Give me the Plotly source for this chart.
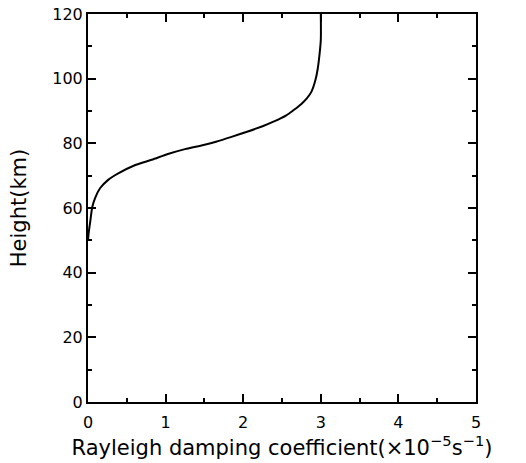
import plotly.graph_objects as go

# Rayleigh damping coefficient (x1e-5 s^-1) vs height (km)
damping = [0.0, 0.01, 0.026, 0.056, 0.09, 0.155, 0.26, 0.39, 0.61, 0.82, 1.03,
           1.25, 1.49, 1.65, 1.85, 2.05, 2.25, 2.39, 2.55, 2.65, 2.75, 2.82, 2.88,
           2.93, 2.96, 2.985, 3.0, 3.0]
height = [50.0, 52.5, 55.3, 60.4, 63.0, 66.1, 68.7, 70.7, 73.3, 74.9, 76.7,
          78.2, 79.5, 80.5, 82.0, 83.6, 85.3, 86.7, 88.6, 90.3, 92.2, 93.9, 96.0,
          99.5, 103.0, 107.8, 112.0, 120.0]

x_ticks = [0, 1, 2, 3, 4, 5]
y_ticks = [0, 20, 40, 60, 80, 100, 120]

font_family = "DejaVu Sans"

fig = go.Figure()
fig.add_trace(go.Scatter(x=damping, y=height, mode="lines",
                         line=dict(color="black", width=2, shape="spline", smoothing=0.8),
                         showlegend=False, hoverinfo="skip"))

axis_common = dict(
    showline=True, linecolor="black", linewidth=2, mirror="ticks",
    ticks="inside", ticklen=8, tickwidth=2, tickcolor="black",
    showgrid=False, zeroline=False, automargin=False,
    tickfont=dict(family=font_family, size=16, color="black"),
)

fig.update_xaxes(range=[0, 5], tickvals=x_ticks, ticktext=[str(v) for v in x_ticks],
                 ticklabelstandoff=5,
                 minor=dict(ticks="inside", ticklen=4, tickwidth=1.5, tickcolor="black", dtick=0.5,
                            showgrid=False),
                 title=dict(text="Rayleigh damping coefficient(×10<sup>−5</sup>s<sup>−1</sup>)",
                            font=dict(family=font_family, size=21, color="black"), standoff=8),
                 **axis_common)
fig.update_yaxes(range=[0, 120], tickvals=y_ticks, ticktext=[str(v) for v in y_ticks],
                 minor=dict(ticks="inside", ticklen=4, tickwidth=1.5, tickcolor="black", dtick=10,
                            showgrid=False),
                 title=dict(text="Height(km)",
                            font=dict(family=font_family, size=21, color="black"), standoff=20),
                 **axis_common)

fig.update_layout(width=526, height=463,
                  margin=dict(l=88, r=50, t=14, b=61),
                  paper_bgcolor="white", plot_bgcolor="white")

fig.write_html("out.html")
